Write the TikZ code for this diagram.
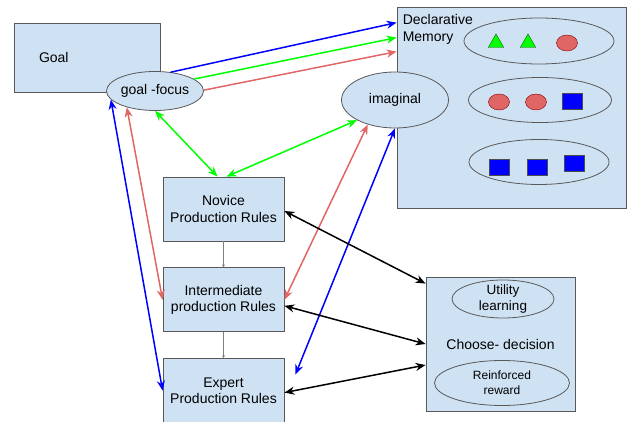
\documentclass[tikz,border=0pt]{standalone}
\usepackage{fontspec}
\setmainfont{Liberation Sans}
\usepackage{tikz}
\usetikzlibrary{shapes.geometric,arrows.meta,positioning}
\definecolor{boxblue}{RGB}{207,226,243}
\definecolor{edgegray}{RGB}{89,89,89}
\definecolor{linkblue}{RGB}{0,0,255}
\definecolor{linkgreen}{RGB}{0,255,0}
\definecolor{linkred}{RGB}{224,102,102}

\begin{document}
\begin{tikzpicture}[
    x=1pt, y=-1pt,
    node distance=26pt,
    font=\fontsize{14}{16.5}\selectfont,
    >={Stealth[length=10pt, width=8pt]},
    mbox/.style={rectangle, draw=edgegray, fill=boxblue, line width=0.8pt, align=center, inner sep=0pt},
    bubble/.style={ellipse, draw=edgegray, fill=boxblue, line width=0.8pt, align=center, inner sep=0pt},
    tri/.style={regular polygon, regular polygon sides=3, minimum size=18pt, inner sep=0pt, draw=green!40!black, fill=linkgreen},
    dot/.style={ellipse, minimum width=21pt, minimum height=16pt, inner sep=0pt, draw=red!50!black, fill=linkred},
    sq/.style={rectangle, minimum width=20pt, minimum height=16pt, inner sep=0pt, draw=black!70, fill=linkblue},
    link/.style={<->, line width=1.5pt},
    onelink/.style={->, line width=1.5pt},
    flow/.style={-{Stealth[length=3pt, width=3pt]}, line width=1.2pt, draw=gray}
]
\useasboundingbox (0,0) rectangle (627,422);

% === GOAL (top left) ===
\node[mbox, minimum width=146pt, minimum height=69pt, text width=96pt, inner xsep=25pt, align=left] (goal) at (87,57.5) {Goal};
\node[bubble, minimum width=97pt, minimum height=39pt] (gfocus) at (155,91) {goal -focus};

% === DECLARATIVE MEMORY (top right) ===
\node[mbox, minimum width=229pt, minimum height=201pt, label={[anchor=north west, inner sep=0pt, align=left, xshift=6pt, yshift=-8pt]north west:Declarative\\Memory}] (declmem) at (511.5,107.5) {};

\node[bubble, minimum width=150pt, minimum height=46pt] (chunka) at (539,41) {};
\node[tri] (tria) at (496,43) {};
\node[tri] (trib) at (528,43) {};
\node[dot] (dota) at (567,43) {};

\node[bubble, minimum width=143pt, minimum height=45pt] (chunkb) at (540,100) {};
\node[dot] (dotb) at (499,102) {};
\node[dot] (dotc) at (536,102) {};
\node[sq] (sqa) at (572.5,101) {};

\node[bubble, minimum width=140pt, minimum height=45pt] (chunkc) at (539,162) {};
\node[sq] (sqb) at (499,167) {};
\node[sq] (sqc) at (537,167) {};
\node[sq] (sqd) at (574.5,163) {};

\node[bubble, minimum width=107pt, minimum height=56pt] (imaginal) at (395,100) {imaginal};

% === PRODUCTION RULES (center) ===
\node[mbox, minimum width=121pt, minimum height=64pt] (novice) at (223.5,209) {Novice\\Production Rules};
\node[mbox, minimum width=121pt, minimum height=64pt, below=26pt of novice] (inter) {Intermediate\\production Rules};
\node[mbox, minimum width=121pt, minimum height=64pt, below=26pt of inter] (expert) {Expert\\Production Rules};

% === CHOOSE DECISION (bottom right) ===
\node[mbox, minimum width=149pt, minimum height=134pt] (choose) at (500.5,344) {Choose- decision};
\node[bubble, minimum width=102pt, minimum height=38pt, inner ysep=-1pt, font=\fontsize{13.5}{15.5}\selectfont] (utility) at (503,299) {Utility\\learning};
\node[bubble, minimum width=135pt, minimum height=45pt, font=\fontsize{12}{15}\selectfont] (reward) at (502,383) {Reinforced\\reward};

% === ARROWS ===
\draw[onelink, linkblue] (gfocus.50) -- ([yshift=-16pt]declmem.north west);
\draw[onelink, linkgreen] (gfocus.17) -- ([yshift=-31pt]declmem.north west);
\draw[onelink, linkred] (gfocus.1) -- ([yshift=-45pt]declmem.north west);

\draw[link, linkgreen] (gfocus.south) -- ([xshift=-6pt]novice.north);
\draw[link, linkgreen] (imaginal.208) -- ([xshift=3pt]novice.north);
\draw[link, linkred] (gfocus.210) -- (inter.west);
\draw[link, linkblue] (gfocus.191) -- (expert.west);
\draw[link, linkred] (imaginal.222) -- (inter.east);
\draw[link, linkblue] (imaginal.south) -- ([xshift=11pt, yshift=16pt]expert.east);

\draw[link] ([yshift=-2pt]novice.east) -- ([yshift=-7pt]choose.north west);
\draw[link] ([yshift=-6pt]inter.east) -- (choose.west);
\draw[link] ([yshift=-2pt]expert.east) -- ([yshift=-21pt]choose.west);

\draw[flow] (novice) -- (inter);
\draw[flow] (inter) -- (expert);

\end{tikzpicture}
\end{document}
